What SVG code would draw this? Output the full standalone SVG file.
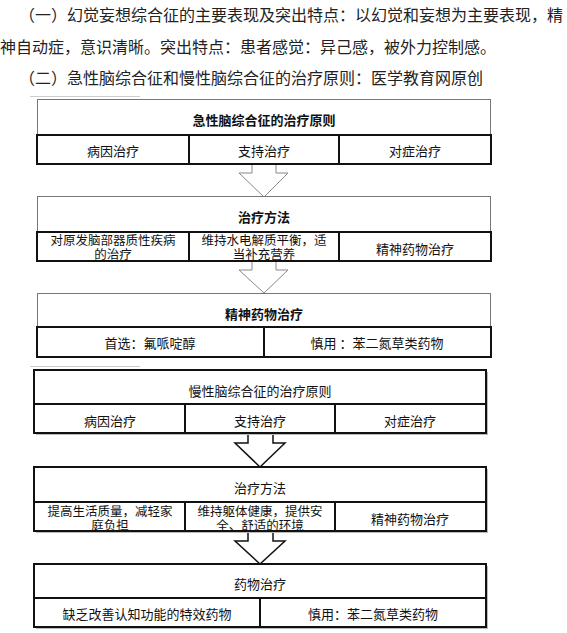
<svg xmlns="http://www.w3.org/2000/svg" width="567" height="633" viewBox="0 0 567 633">
<style>
text{font-family:"Noto Sans CJK SC","Noto Sans",sans-serif;fill:#111;}
.p{font-size:16px;fill:#222;}
.t{font-size:13px;text-anchor:middle;dominant-baseline:central;}
.m{font-size:12.5px;text-anchor:middle;}
.b{font-weight:bold;}
.ob{fill:#fff;stroke:#777;stroke-width:1;}
.rw{fill:none;stroke:#111;stroke-width:2;}
.dv{stroke:#111;stroke-width:2;}
.cb{fill:#fff;stroke:#111;stroke-width:2;}
.ga{fill:#fff;stroke:#888;stroke-width:1;}
.ba{fill:#fff;stroke:#111;stroke-width:1.5;}
.fl{stroke:#ccc;stroke-width:1;}
</style>
<rect width="567" height="633" fill="#fff"/>
<g id="intro">
<text class="p" x="19" y="21">（一）幻觉妄想综合征的主要表现及突出特点：以幻觉和妄想为主要表现，精</text>
<text class="p" x="0" y="53">神自动症，意识清晰。突出特点：患者感觉：异己感，被外力控制感。</text>
<text class="p" x="19" y="84">（二）急性脑综合征和慢性脑综合征的治疗原则：医学教育网原创</text>
</g>
<line class="fl" x1="30" y1="96.5" x2="140" y2="96.5"/>
<line class="fl" x1="30" y1="366.5" x2="140" y2="366.5"/>
<g id="connectors">
<polygon class="ga" points="252,164 252,173 239,173 264,197 288,173 276,173 276,164"/>
<polygon class="ga" points="252,261 252,270 239,270 264,293 288,270 276,270 276,261"/>
<polygon class="ba" points="248,433 248,443 235,443 260,467 285,443 273,443 273,433"/>
<polygon class="ba" points="248,531 248,541 235,541 260,564 285,541 273,541 273,531"/>
</g>
<g id="acute-principles">
<rect class="ob" x="37.5" y="99.5" width="453" height="64"/>
<rect class="rw" x="37" y="135" width="454" height="29"/>
<line class="dv" x1="189" y1="135" x2="189" y2="164"/>
<line class="dv" x1="339" y1="135" x2="339" y2="164"/>
<text class="t b" x="264" y="119">急性脑综合征的治疗原则</text>
<text class="t" x="113" y="150">病因治疗</text>
<text class="t" x="264" y="150">支持治疗</text>
<text class="t" x="415" y="150">对症治疗</text>
</g>
<g id="acute-methods">
<rect class="ob" x="37.5" y="196.5" width="453" height="64"/>
<rect class="rw" x="37" y="232" width="454" height="29"/>
<line class="dv" x1="189" y1="232" x2="189" y2="261"/>
<line class="dv" x1="339" y1="232" x2="339" y2="261"/>
<text class="t b" x="264" y="216">治疗方法</text>
<text class="m" x="113" y="245">对原发脑部器质性疾病<tspan x="113" dy="13.5">的治疗</tspan></text>
<text class="m" x="264" y="245">维持水电解质平衡，适<tspan x="264" dy="13.5">当补充营养</tspan></text>
<text class="t" x="415" y="248">精神药物治疗</text>
</g>
<g id="acute-drugs">
<rect class="ob" x="37.5" y="293.5" width="453" height="63"/>
<rect class="rw" x="37" y="327" width="454" height="30"/>
<line class="dv" x1="264" y1="327" x2="264" y2="357"/>
<text class="t b" x="264" y="313">精神药物治疗</text>
<text class="t" x="150" y="342">首选：氟哌啶醇</text>
<text class="t" x="377" y="342">慎用 ：苯二氮草类药物</text>
</g>
<g id="chronic-principles">
<rect x="36" y="372" width="452" height="63" fill="#bbb"/>
<rect class="cb" x="34" y="370" width="452" height="63"/>
<line class="dv" x1="34" y1="404" x2="486" y2="404"/>
<line class="dv" x1="185" y1="404" x2="185" y2="433"/>
<line class="dv" x1="335" y1="404" x2="335" y2="433"/>
<text class="t" x="260" y="390">慢性脑综合征的治疗原则</text>
<text class="t" x="110" y="420">病因治疗</text>
<text class="t" x="260" y="420">支持治疗</text>
<text class="t" x="410" y="420">对症治疗</text>
</g>
<g id="chronic-methods">
<rect x="36" y="469" width="452" height="64" fill="#bbb"/>
<rect class="cb" x="34" y="467" width="452" height="64"/>
<line class="dv" x1="34" y1="502" x2="486" y2="502"/>
<line class="dv" x1="185" y1="502" x2="185" y2="531"/>
<line class="dv" x1="335" y1="502" x2="335" y2="531"/>
<text class="t" x="260" y="487">治疗方法</text>
<text class="m" x="110" y="516">提高生活质量，减轻家<tspan x="110" dy="13.5">庭负担</tspan></text>
<text class="m" x="260" y="516">维持躯体健康，提供安<tspan x="260" dy="13.5">全、舒适的环境</tspan></text>
<text class="t" x="410" y="518">精神药物治疗</text>
</g>
<g id="chronic-drugs">
<rect x="36" y="566" width="452" height="63" fill="#bbb"/>
<rect class="cb" x="34" y="564" width="452" height="63"/>
<line class="dv" x1="34" y1="598" x2="486" y2="598"/>
<line class="dv" x1="260" y1="598" x2="260" y2="627"/>
<text class="t" x="260" y="583">药物治疗</text>
<text class="t" x="147" y="613">缺乏改善认知功能的特效药物</text>
<text class="t" x="373" y="613">慎用：苯二氮草类药物</text>
</g>
</svg>
